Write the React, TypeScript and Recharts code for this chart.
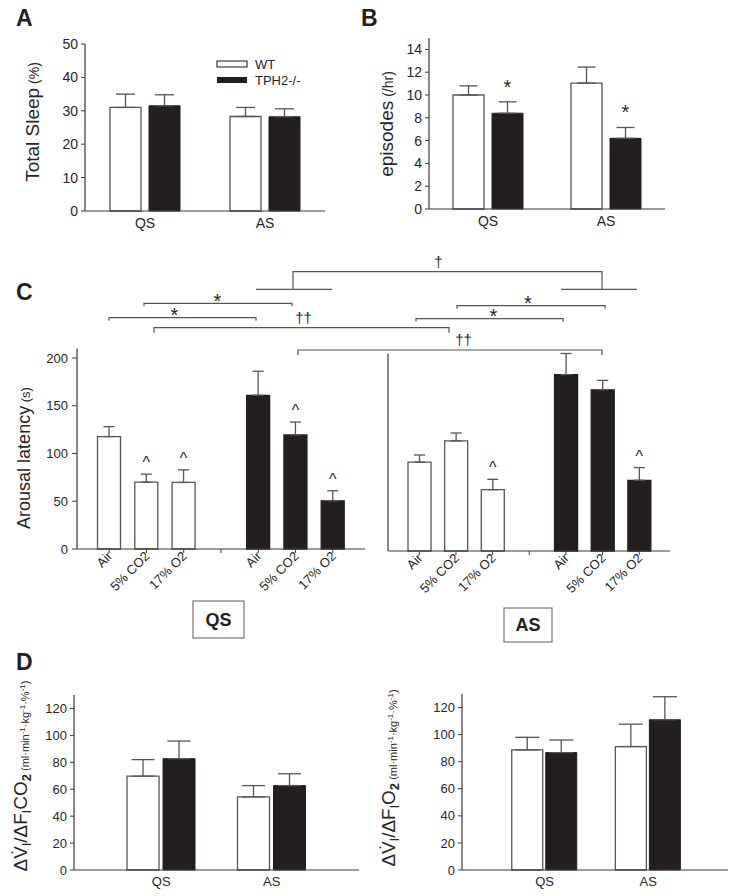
import React from 'react';
import { Bar, BarChart, ErrorBar, Cell, LabelList, XAxis, YAxis } from 'recharts';

const FONT = '"Liberation Sans", Arial, Helvetica, sans-serif';
const INK = '#231f20';
const AXIS = '#3a3a3a';
const EDGE = '#555';
const TEXT = '#262626';

// ---- data ----
const stages = ['QS', 'AS'];

// A: total sleep (%)
const sleepWT = [31, 28.3];
const sleepWTErr = [4, 2.7];
const sleepKO = [31.5, 28.2];
const sleepKOErr = [3.3, 2.4];
const sleepTicks = [0, 10, 20, 30, 40, 50];

// B: episodes (/hr)
const episodesWT = [10, 11.05];
const episodesWTErr = [0.8, 1.4];
const episodesKO = [8.4, 6.2];
const episodesKOErr = [1.0, 0.95];
const episodesMarks = ['*', '*'];
const episodesTicks = [0, 2, 4, 6, 8, 10, 12, 14];

// C: arousal latency (s)
const gases = ['Air', '5% CO2', '17% O2', '', 'Air', '5% CO2', '17% O2'];
const gasGenotype = ['WT', 'WT', 'WT', '', 'KO', 'KO', 'KO'];
const latencyQS = [117.8, 70, 69.7, null, 161, 119.5, 50.5];
const latencyQSErr = [10.4, 8.4, 13.2, null, 25.2, 13.5, 10.5];
const latencyQSMarks = ['', '^', '^', '', '', '^', '^'];
const latencyAS = [94.6, 117, 65.2, null, 187.5, 171.4, 75.2];
const latencyASErr = [7.5, 8.5, 11, null, 22.5, 10, 13.5];
const latencyASMarks = ['', '', '^', '', '', '', '^'];
const latencyTicks = [0, 50, 100, 150, 200];

// D: ventilatory responses
const co2WT = [69.7, 54.3];
const co2WTErr = [12.3, 8.4];
const co2KO = [82.7, 62.7];
const co2KOErr = [13.1, 8.8];
const o2WT = [88.7, 91.2];
const o2WTErr = [9.3, 16.5];
const o2KO = [86.7, 111];
const o2KOErr = [9.3, 17];
const ventTicks = [0, 20, 40, 60, 80, 100, 120];

const pairRows = (wt: number[], wtErr: number[], ko: number[], koErr: number[], marks?: string[]) =>
  stages.map((stage, i) => ({
    stage,
    wt: wt[i],
    wtErr: [0, wtErr[i]],
    ko: ko[i],
    koErr: [0, koErr[i]],
    val: ko[i],
    err: koErr[i],
    mark: marks ? marks[i] : '',
  }));

const gasRows = (vals: (number | null)[], errs: (number | null)[], marks: string[]) =>
  gases.map((gas, i) => ({
    gas,
    geno: gasGenotype[i],
    v: vals[i],
    e: errs[i] == null ? null : [0, errs[i]],
    val: vals[i],
    err: errs[i],
    mark: marks[i],
  }));

const wholeRow = (r: any) => r;

// significance mark placed above the error bar, using the bar's own pixel scale
const markContent = (size: number, gap: number) => (props: any) => {
  const vb = props.viewBox || props;
  const { x, y, width, height } = vb;
  const row = props.value;
  if (!row || typeof row !== 'object' || !row.mark || row.err == null || !row.val) return null;
  const errTop = y - (height * row.err) / row.val;
  return (
    <text x={x + width / 2} y={errTop - gap} textAnchor="middle" fontFamily={FONT} fontSize={size} fill={TEXT}>
      {row.mark}
    </text>
  );
};

interface PairProps {
  rows: any[];
  width: number;
  height: number;
  margin: { top: number; right: number; bottom: number; left: number };
  yWidth: number;
  xHeight: number;
  domain: [number, number];
  ticks: number[];
  pad: { left: number; right: number };
  barSize: number;
  barGap: number;
  cap: number;
  fontSize: number;
}

function PairChart(p: PairProps) {
  const tickStyle = { fill: TEXT, fontSize: p.fontSize, fontFamily: FONT };
  return (
    <BarChart width={p.width} height={p.height} data={p.rows} margin={p.margin} barSize={p.barSize} barGap={p.barGap}>
      <XAxis
        dataKey="stage"
        height={p.xHeight}
        padding={p.pad}
        interval={0}
        tickLine={false}
        tickSize={4}
        tickMargin={3}
        axisLine={{ stroke: AXIS, strokeWidth: 1.2 }}
        tick={tickStyle}
      />
      <YAxis
        width={p.yWidth}
        domain={p.domain}
        ticks={p.ticks}
        interval={0}
        tickSize={4}
        tickMargin={3}
        tickLine={{ stroke: AXIS }}
        axisLine={{ stroke: AXIS, strokeWidth: 1.2 }}
        tick={tickStyle}
      />
      <Bar dataKey="wt" fill="#fff" stroke={EDGE} strokeWidth={1.3} isAnimationActive={false}>
        <ErrorBar dataKey="wtErr" width={p.cap} stroke={EDGE} strokeWidth={1.3} isAnimationActive={false} />
      </Bar>
      <Bar dataKey="ko" fill={INK} stroke={INK} strokeWidth={1} isAnimationActive={false}>
        <ErrorBar dataKey="koErr" width={p.cap} stroke={EDGE} strokeWidth={1.3} isAnimationActive={false} />
        <LabelList dataKey={wholeRow} content={markContent(20, 8)} />
      </Bar>
    </BarChart>
  );
}

function SlantTick(props: any) {
  const { x, y, payload } = props;
  return (
    <g transform={`translate(${x + 4},${y + 2}) rotate(-45)`}>
      <text x={0} y={0} textAnchor="end" fontFamily={FONT} fontSize={13} fill={TEXT}>
        {payload.value}
      </text>
    </g>
  );
}

interface GasProps {
  rows: any[];
  width: number;
  height: number;
  margin: { top: number; right: number; bottom: number; left: number };
  yWidth: number;
  pad: { left: number; right: number };
  showLabels: boolean;
}

function GasChart(p: GasProps) {
  return (
    <BarChart width={p.width} height={p.height} data={p.rows} margin={p.margin} barSize={23}>
      <XAxis
        dataKey="gas"
        height={45}
        padding={p.pad}
        interval={0}
        tickSize={4}
        tickMargin={2}
        tickLine={{ stroke: AXIS }}
        axisLine={{ stroke: AXIS, strokeWidth: 1.2 }}
        tick={<SlantTick />}
      />
      <YAxis
        width={p.yWidth}
        domain={[0, 210]}
        ticks={latencyTicks}
        interval={0}
        tickSize={5}
        tickMargin={4}
        tickLine={{ stroke: AXIS }}
        axisLine={{ stroke: AXIS, strokeWidth: 1.2 }}
        tick={p.showLabels ? { fill: TEXT, fontSize: 13, fontFamily: FONT } : false}
      />
      <Bar dataKey="v" isAnimationActive={false} strokeWidth={1.3}>
        {p.rows.map((r, i) => (
          <Cell key={i} fill={r.geno === 'KO' ? INK : '#fff'} stroke={r.geno === 'KO' ? INK : EDGE} />
        ))}
        <ErrorBar dataKey="e" width={5.5} stroke={EDGE} strokeWidth={1.3} isAnimationActive={false} />
        <LabelList dataKey={wholeRow} content={markContent(16, 6)} />
      </Bar>
    </BarChart>
  );
}

function Box({ left, top, width, height, children }: any) {
  return <div style={{ position: 'absolute', left, top, width, height }}>{children}</div>;
}

function VLabel({ x, y, size, children }: any) {
  return (
    <text transform={`translate(${x},${y}) rotate(-90)`} textAnchor="middle" fontFamily={FONT} fontSize={size} fill={TEXT}>
      {children}
    </text>
  );
}

function VentLabel({ x, y, gas }: { x: number; y: number; gas: string }) {
  return (
    <VLabel x={x} y={y} size={19}>
      {'\u0394V\u0307'}
      <tspan fontSize={12} dy={4}>I</tspan>
      <tspan dy={-4}>/{'\u0394'}F</tspan>
      <tspan fontSize={12} dy={4}>I</tspan>
      <tspan dy={-4}>{gas}</tspan>
      <tspan fontSize={13} dy={4} fontWeight="bold">2</tspan>
      <tspan fontSize={11} dy={-2}> (ml·min</tspan>
      <tspan fontSize={8} dy={-4}>-1</tspan>
      <tspan fontSize={11} dy={4}>·kg</tspan>
      <tspan fontSize={8} dy={-4}>-1</tspan>
      <tspan fontSize={11} dy={4}>·%</tspan>
      <tspan fontSize={8} dy={-4}>-1</tspan>
      <tspan fontSize={11} dy={4}>)</tspan>
    </VLabel>
  );
}

// comparison brackets above panel C (annotation geometry)
const brackets = [
  { x1: 144, x2: 292, y: 303.3, tick: 3 },
  { x1: 109, x2: 256, y: 317.7, tick: 3 },
  { x1: 154, x2: 449, y: 327.7, tick: 5 },
  { x1: 298, x2: 602, y: 350, tick: 5 },
  { x1: 457, x2: 605, y: 305.7, tick: 3 },
  { x1: 416, x2: 563, y: 318.7, tick: 3 },
];
const bracketText = [
  { x: 217.5, y: 307.5, t: '*', size: 20 },
  { x: 174.5, y: 321.5, t: '*', size: 20 },
  { x: 528, y: 309.5, t: '*', size: 20 },
  { x: 493.5, y: 322.5, t: '*', size: 20 },
  { x: 303.5, y: 323, t: '\u2020\u2020', size: 15 },
  { x: 463.5, y: 345, t: '\u2020\u2020', size: 15 },
  { x: 438.5, y: 267, t: '\u2020', size: 15 },
];

export default function App() {
  const rowsA = pairRows(sleepWT, sleepWTErr, sleepKO, sleepKOErr);
  const rowsB = pairRows(episodesWT, episodesWTErr, episodesKO, episodesKOErr, episodesMarks);
  const rowsQS = gasRows(latencyQS, latencyQSErr, latencyQSMarks);
  const rowsAS = gasRows(latencyAS, latencyASErr, latencyASMarks);
  const rowsCO2 = pairRows(co2WT, co2WTErr, co2KO, co2KOErr);
  const rowsO2 = pairRows(o2WT, o2WTErr, o2KO, o2KOErr);

  return (
    <div style={{ position: 'absolute', left: 0, top: 0, width: 729, height: 896, background: '#fff', overflow: 'hidden' }}>
      <Box left={0} top={0} width={340} height={240}>
        <PairChart
          rows={rowsA}
          width={340}
          height={240}
          margin={{ top: 44, right: 15, bottom: 4, left: 45 }}
          yWidth={40}
          xHeight={25}
          domain={[0, 50]}
          ticks={sleepTicks}
          pad={{ left: 0, right: 0 }}
          barSize={31}
          barGap={8}
          cap={9.5}
          fontSize={14}
        />
      </Box>
      <Box left={360} top={0} width={369} height={240}>
        <PairChart
          rows={rowsB}
          width={369}
          height={240}
          margin={{ top: 38, right: 64, bottom: 6, left: 29 }}
          yWidth={40}
          xHeight={25}
          domain={[0, 15]}
          ticks={episodesTicks}
          pad={{ left: 0, right: 0 }}
          barSize={31}
          barGap={8}
          cap={9}
          fontSize={14}
        />
      </Box>
      <Box left={0} top={330} width={380} height={270}>
        <GasChart
          rows={rowsQS}
          width={380}
          height={270}
          margin={{ top: 18.5, right: 15, bottom: 6, left: 40 }}
          yWidth={37}
          pad={{ left: 13.5, right: 13.5 }}
          showLabels
        />
      </Box>
      <Box left={370} top={330} width={359} height={270}>
        <GasChart
          rows={rowsAS}
          width={359}
          height={270}
          margin={{ top: 23.5, right: 59, bottom: 4, left: 8 }}
          yWidth={10}
          pad={{ left: 13, right: 12.5 }}
          showLabels={false}
        />
      </Box>
      <Box left={0} top={680} width={380} height={216}>
        <PairChart
          rows={rowsCO2}
          width={380}
          height={216}
          margin={{ top: 15, right: 21, bottom: 4, left: 40 }}
          yWidth={34}
          xHeight={22}
          domain={[0, 130]}
          ticks={ventTicks}
          pad={{ left: 32, right: 32 }}
          barSize={32}
          barGap={4}
          cap={11.5}
          fontSize={13}
        />
      </Box>
      <Box left={370} top={680} width={359} height={216}>
        <PairChart
          rows={rowsO2}
          width={359}
          height={216}
          margin={{ top: 14, right: 1, bottom: 4, left: 58 }}
          yWidth={34}
          xHeight={22}
          domain={[0, 130]}
          ticks={ventTicks}
          pad={{ left: 30.75, right: 28 }}
          barSize={31}
          barGap={3}
          cap={12}
          fontSize={13}
        />
      </Box>

      <svg width={729} height={896} style={{ position: 'absolute', left: 0, top: 0, pointerEvents: 'none' }}>
        {/* panel letters */}
        <g fontFamily={FONT} fontWeight="bold" fontSize={23} fill={INK}>
          <text x={16} y={26}>A</text>
          <text x={361} y={26}>B</text>
          <text x={16} y={300}>C</text>
          <text x={16} y={670}>D</text>
        </g>

        {/* axis titles */}
        <VLabel x={39} y={122} size={19}>
          Total Sleep<tspan fontSize={14}> (%)</tspan>
        </VLabel>
        <VLabel x={393} y={124} size={19}>
          episodes<tspan fontSize={14}> (/hr)</tspan>
        </VLabel>
        <VLabel x={30} y={458} size={18}>
          Arousal latency<tspan fontSize={13}> (s)</tspan>
        </VLabel>
        <VentLabel x={27} y={776} gas="CO" />
        <VentLabel x={395} y={778} gas="O" />

        {/* legend */}
        <rect x={217} y={61} width={30} height={6} fill="#fff" stroke={AXIS} strokeWidth={1.2} />
        <rect x={217} y={77} width={30} height={6} fill={INK} />
        <g fontFamily={FONT} fontSize={13} fill={TEXT}>
          <text x={255} y={69}>WT</text>
          <text x={255} y={85}>TPH2-/-</text>
        </g>

        {/* brackets */}
        <g stroke={EDGE} strokeWidth={1.2} fill="none">
          <path d="M293,289.3 V271.7 H602 V289.3" />
          <path d="M256,289.3 H332" />
          <path d="M561,289.3 H637" />
          {brackets.map((b, i) => (
            <path key={i} d={`M${b.x1},${b.y + b.tick} V${b.y} H${b.x2} V${b.y + b.tick}`} />
          ))}
        </g>
        <g fontFamily={FONT} fill={TEXT} textAnchor="middle">
          {bracketText.map((t, i) => (
            <text key={i} x={t.x} y={t.y} fontSize={t.size}>
              {t.t}
            </text>
          ))}
        </g>

        {/* sleep-state boxes */}
        <rect x={193} y={601} width={51} height={37} fill="#fff" stroke="#777" strokeWidth={1.2} />
        <rect x={504} y={608} width={48} height={34} fill="#fff" stroke="#777" strokeWidth={1.2} />
        <g fontFamily={FONT} fontWeight="bold" fontSize={18} fill={INK} textAnchor="middle">
          <text x={218.5} y={626}>QS</text>
          <text x={528} y={631}>AS</text>
        </g>
      </svg>
    </div>
  );
}
